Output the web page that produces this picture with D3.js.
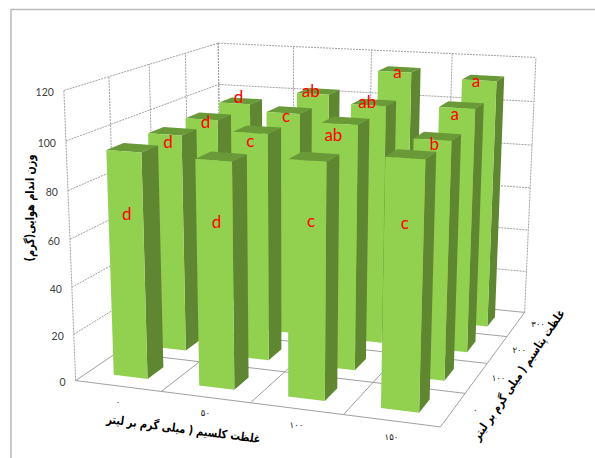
<!DOCTYPE html>
<html>
<head>
<meta charset="utf-8">
<script src="https://cdn.jsdelivr.net/npm/d3@7"></script>
<style>
html,body{margin:0;padding:0;background:#fff;}
svg{display:block;}
</style>
</head>
<body>
<svg id="chart" width="595" height="458"></svg>
<script>
// Calcium and potassium treatment levels (mg per litre)
const calcium = ["۰", "۵۰", "۱۰۰", "۱۵۰"];
const potassium = ["۰", "۱۰۰", "۲۰۰", "۳۰۰"];
const weightTicks = [0, 20, 40, 60, 80, 100, 120];

// Shoot weight (g) for each potassium level, one value per calcium level
const weightK0 = [95, 94, 96.5, 100];
const weightK100 = [95, 98, 104, 100];
const weightK200 = [95, 100, 105.5, 106.5];
const weightK300 = [96, 102.5, 114.5, 112.5];

// Mean-separation letters, same order
const lettersK0 = ["d", "d", "c", "c"];
const lettersK100 = ["d", "c", "ab", "b"];
const lettersK200 = ["d", "c", "ab", "a"];
const lettersK300 = ["d", "ab", "a", "a"];

const weights = [weightK0, weightK100, weightK200, weightK300];
const letters = [lettersK0, lettersK100, lettersK200, lettersK300];

const svg = d3.select("#chart");

// Unit-cube scales: x = calcium, y = potassium (depth), z = weight
const xScale = d3.scaleBand().domain(calcium).range([0, 1]).paddingInner(0.6).paddingOuter(0.3);
const yScale = d3.scaleBand().domain(potassium).range([0, 1]).paddingInner(0.6).paddingOuter(0.3);
const zScale = d3.scaleLinear().domain([0, 120]).range([0, 1]);

// Pin-hole camera fitted by least squares to where the cube's corners land on the page
const cubeCorners = [
  [0, 0, 0, 76, 380], [1, 0, 0, 440, 428], [1, 1, 0, 525, 311], [0, 1, 0, 221, 283],
  [0, 0, 1, 64, 90], [1, 1, 1, 536, 58], [0, 1, 1, 218, 43]
];

function fitCamera(corners) {
  const rows = [], rhs = [];
  corners.forEach(([x, y, z, u, v]) => {
    rows.push([x, y, z, 1, 0, 0, 0, 0, -u * x, -u * y, -u * z]); rhs.push(u);
    rows.push([0, 0, 0, 0, x, y, z, 1, -v * x, -v * y, -v * z]); rhs.push(v);
  });
  const n = 11;
  const m = d3.range(n).map(i => d3.range(n + 1).map(j =>
    d3.sum(rows, (r, k) => r[i] * (j < n ? r[j] : rhs[k]))));
  for (let c = 0; c < n; c++) {
    let p = c;
    for (let r = c + 1; r < n; r++) if (Math.abs(m[r][c]) > Math.abs(m[p][c])) p = r;
    [m[c], m[p]] = [m[p], m[c]];
    for (let r = 0; r < n; r++) {
      if (r === c) continue;
      const f = m[r][c] / m[c][c];
      for (let j = c; j <= n; j++) m[r][j] -= f * m[c][j];
    }
  }
  return m.map((row, i) => row[n] / row[i]);
}
const cam = fitCamera(cubeCorners);

function project(x, y, z) {
  const w = cam[8] * x + cam[9] * y + cam[10] * z + 1;
  return [
    (cam[0] * x + cam[1] * y + cam[2] * z + cam[3]) / w,
    (cam[4] * x + cam[5] * y + cam[6] * z + cam[7]) / w
  ];
}
const line3d = d3.line();

// Outer chart frame (runs past the right and bottom page edges)
svg.append("rect").attr("x", 11).attr("y", 9.5).attr("width", 700).attr("height", 600)
  .attr("fill", "none").attr("stroke", "#b8b8b8").attr("stroke-width", 1.5);

// Walls and floor grid
const grid = svg.append("g").attr("fill", "none").attr("stroke", "#a0a0a0").attr("stroke-width", 1);
const divisions = d3.range(0, 5).map(i => i / 4);
function segment(a, b, dashed) {
  grid.append("path").attr("d", line3d([project(...a), project(...b)]))
    .attr("stroke-dasharray", dashed ? "2 1" : null);
}
weightTicks.forEach(t => {
  const z = zScale(t);
  if (t === 0) return;
  segment([0, 0, z], [0, 1, z], true);
  segment([0, 1, z], [1, 1, z], true);
});
divisions.forEach(d => {
  segment([0, d, 0], [0, d, 1], true);
  segment([d, 1, 0], [d, 1, 1], true);
  segment([d, 0, 0], [d, 1, 0], false);
  segment([0, d, 0], [1, d, 0], false);
});

// Bars, painted from the far row forward and left to right
const barColors = { front: "#92d050", side: "#5f8732", top: "#6a9a38" };
const bars = [];
potassium.forEach((k, row) => calcium.forEach((c, col) => {
  bars.push({ k, c, row, col, value: weights[row][col], letter: letters[row][col] });
}));
bars.sort((a, b) => d3.descending(a.row, b.row) || d3.ascending(a.col, b.col));

const barGroup = svg.append("g");
bars.forEach(b => {
  const x0 = xScale(b.c), x1 = x0 + xScale.bandwidth();
  const y0 = yScale(b.k), y1 = y0 + yScale.bandwidth();
  const h = zScale(b.value);
  const faces = [
    ["top", [[x0, y0, h], [x1, y0, h], [x1, y1, h], [x0, y1, h]]],
    ["side", [[x1, y0, 0], [x1, y1, 0], [x1, y1, h], [x1, y0, h]]],
    ["front", [[x0, y0, 0], [x1, y0, 0], [x1, y0, h], [x0, y0, h]]]
  ];
  faces.forEach(([name, pts]) => {
    barGroup.append("path")
      .attr("d", line3d(pts.map(p => project(...p))) + "Z")
      .attr("fill", barColors[name]);
  });
});

// Significance letters, hand-placed on the bar fronts: how far below the bar top (in g)
// and how far sideways (in px) each one sits
const letterDrop = [[28, 27, 26, 27], [6, 6, 7, 4], [4, 4, 1, 5], [0, 1.5, 3, 3]];
const letterShift = [[1, 2, 4, 1], [3, 0, -6, 2], [4, 3, -1, -2], [4, -2, 3, -3]];
const letterPoint = b => project(xScale(b.c) + xScale.bandwidth() / 2, yScale(b.k),
  zScale(b.value - letterDrop[b.row][b.col]));
svg.append("g").selectAll("text").data(bars).join("text")
  .attr("x", b => letterPoint(b)[0] + letterShift[b.row][b.col])
  .attr("y", b => letterPoint(b)[1])
  .attr("text-anchor", "middle")
  .attr("font-family", "Lato, sans-serif")
  .attr("font-size", 17)
  .attr("fill", "#ff0000")
  .text(b => b.letter);

// Weight axis labels
svg.append("g").selectAll("text").data(weightTicks).join("text")
  .attr("x", t => project(0, 0, zScale(t))[0] - 10)
  .attr("y", t => project(0, 0, zScale(t))[1] + 5.5)
  .attr("text-anchor", "end")
  .attr("font-family", "Lato, sans-serif")
  .attr("font-size", 10.5)
  .attr("fill", "#404040")
  .text(t => t);

// Calcium and potassium tick labels
const digitFont = "'DejaVu Sans', sans-serif";
svg.append("g").selectAll("text").data(calcium).join("text")
  .attr("x", c => project(xScale(c) + xScale.bandwidth() / 2, 0, 0)[0])
  .attr("y", c => project(xScale(c) + xScale.bandwidth() / 2, 0, 0)[1] + 19)
  .attr("text-anchor", "middle").attr("font-family", digitFont).attr("font-size", 8.5).attr("fill", "#111")
  .text(c => c);
svg.append("g").selectAll("text").data(potassium).join("text")
  .attr("x", k => project(1, yScale(k) + yScale.bandwidth() / 2, 0)[0] + 22)
  .attr("y", k => project(1, yScale(k) + yScale.bandwidth() / 2, 0)[1] + 3)
  .attr("text-anchor", "middle").attr("font-family", digitFont).attr("font-size", 8.5).attr("fill", "#111")
  .text(k => k);

// Axis titles, condensed to their measured run along the axis
function title(text, x, y, angle, run) {
  svg.append("text").attr("transform", `translate(${x},${y}) rotate(${angle})`)
    .attr("text-anchor", "middle").attr("direction", "rtl")
    .attr("font-family", digitFont).attr("font-weight", "bold")
    .attr("font-size", 12).attr("fill", "#000")
    .attr("textLength", run).attr("lengthAdjust", "spacingAndGlyphs")
    .text(text);
}
title("وزن اندام هوایی(گرم)", 34, 208, -90, 107);
title("غلظت کلسیم ( میلی گرم بر لیتر", 183, 433, 7.4, 155);
title("غلظت پتاسیم ( میلی گرم بر لیتر", 522, 377, -56, 155);
</script>
</body>
</html>
